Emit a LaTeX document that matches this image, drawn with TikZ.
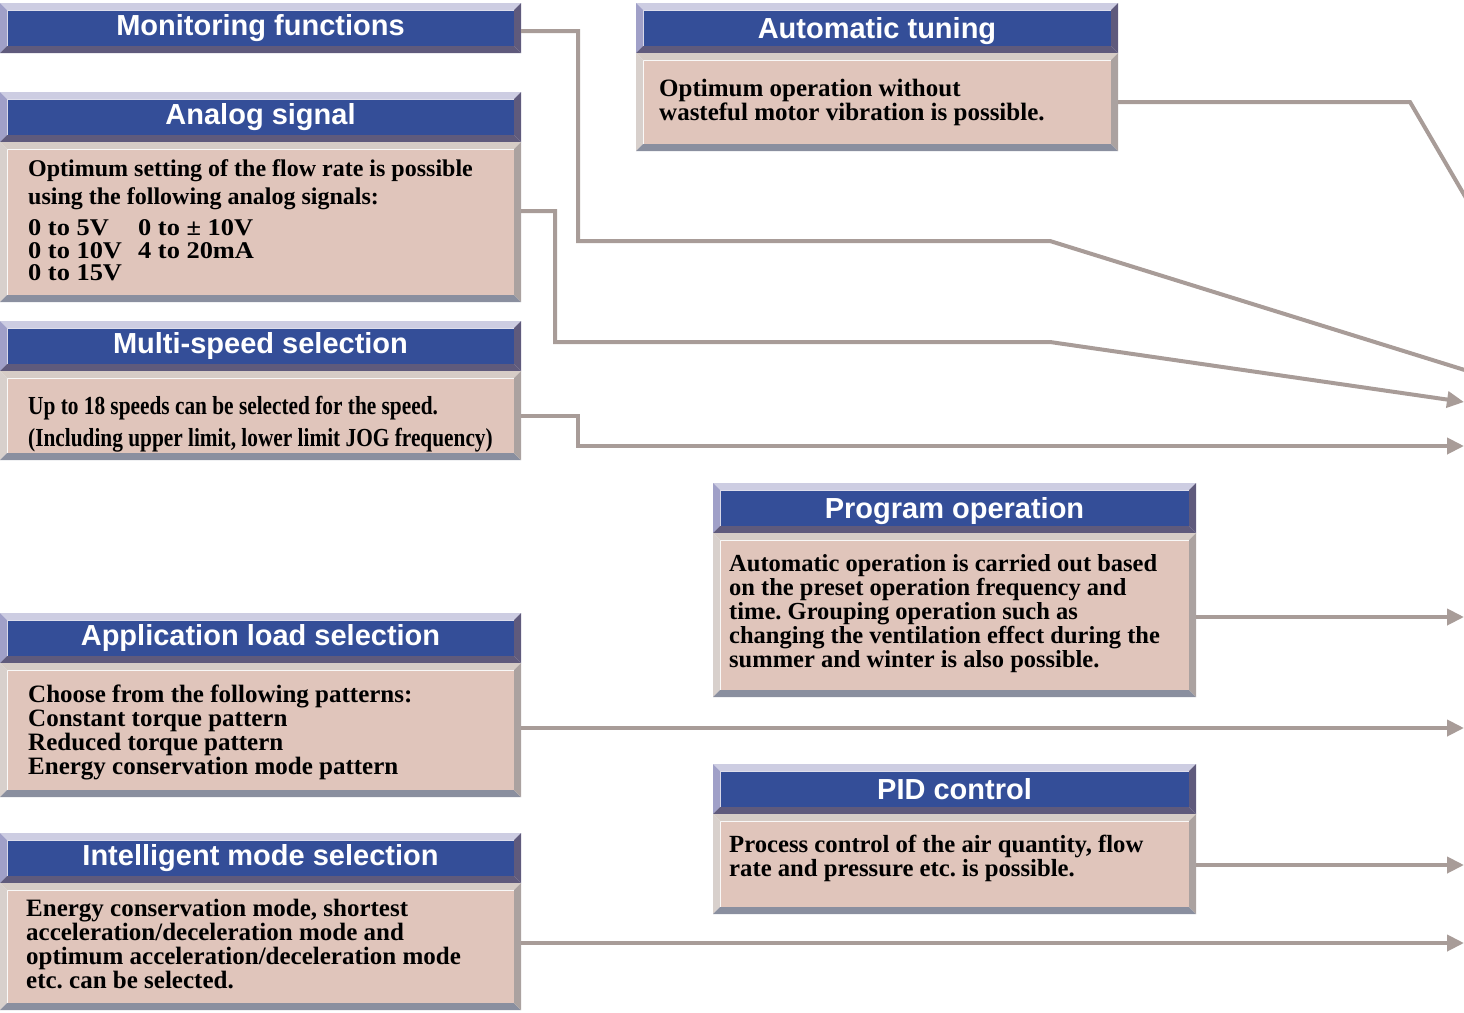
\documentclass[tikz,border=0pt]{standalone}
\usepackage{fontspec}
\setmainfont{Liberation Serif}
\newfontfamily\headfont{Liberation Sans}
\newfontfamily\narrowfont[FakeStretch=0.82]{Liberation Serif}
\newfontfamily\widefont[FakeStretch=1.1]{Liberation Serif}
\usetikzlibrary{positioning,calc,arrows.meta}
\definecolor{titleblue}{HTML}{344E98}
\definecolor{titletop}{HTML}{CDCDE2}
\definecolor{titleleft}{HTML}{A0A0C8}
\definecolor{titledark}{HTML}{5F5A7C}
\definecolor{bodyfill}{HTML}{E0C5BB}
\definecolor{bodytop}{HTML}{D6CCC6}
\definecolor{bodyleft}{HTML}{D8D0CC}
\definecolor{bodybottom}{HTML}{8A8F9F}
\definecolor{bodyright}{HTML}{ABA2A0}
\definecolor{wiregray}{HTML}{A89C98}

% bevelled frame, 7 units wide, round a named node
\newcommand{\bevel}[5]{%
  \fill[#2] ($(#1.north west)+(-7,-7)$) -- ($(#1.north east)+(7,-7)$) -- (#1.north east) -- (#1.north west) -- cycle;
  \fill[#3] ($(#1.north west)+(-7,-7)$) -- (#1.north west) -- (#1.south west) -- ($(#1.south west)+(-7,7)$) -- cycle;
  \fill[#4] ($(#1.south west)+(-7,7)$) -- (#1.south west) -- (#1.south east) -- ($(#1.south east)+(7,7)$) -- cycle;
  \fill[#5] ($(#1.north east)+(7,-7)$) -- ($(#1.south east)+(7,7)$) -- (#1.south east) -- (#1.north east) -- cycle;
}
\newcommand{\titlebevel}[1]{\bevel{#1}{titletop}{titleleft}{titledark}{titledark}}
\newcommand{\bodybevel}[1]{\bevel{#1}{bodytop}{bodyleft}{bodybottom}{bodyright}}

\begin{document}
\frenchspacing
\begin{tikzpicture}[
    x=1pt, y=-1pt,
    titlebar/.style={rectangle, fill=titleblue, draw=titletop!60!white, line width=1pt,
                     outer sep=0pt, minimum height=36pt, text=white,
                     font=\headfont\bfseries\fontsize{29}{30}\selectfont},
    lowtitle/.style={text depth=0pt},
    bodybox/.style={rectangle, fill=bodyfill, draw=white, line width=1pt, outer sep=0pt},
    bodytext/.style={anchor=north west, inner sep=0pt, align=left,
                     font=\bfseries\fontsize{25}{24}\selectfont},
    wire/.style={-{Triangle[length=17pt,width=16pt]}, line width=4pt, color=wiregray}
]
    \useasboundingbox (0,0) rectangle (1464,1012);
    \clip (0,0) rectangle (1464,1012);

    % left column
    \node[titlebar, minimum width=507pt] (monT) at (260.5,28) {Monitoring functions};
    \titlebevel{monT}

    \node[titlebar, minimum width=507pt] (anaT) at (260.5,117) {Analog signal};
    \node[bodybox, minimum width=507pt, minimum height=146pt, below=14pt of anaT] (anaB) {};
    \titlebevel{anaT}
    \bodybevel{anaB}
    \node[bodytext, font=\bfseries\fontsize{24}{24}\selectfont] (anaX) at ($(anaB.north west)+(21,10)$)
        {Optimum setting of the flow rate is possible\\[4pt]
         using the following analog signals:\\[7pt]
         {\widefont\makebox[110pt][l]{0 to 5V}0 to ± 10V}\\[-1pt]
         {\widefont\makebox[110pt][l]{0 to 10V}4 to 20mA}\\[-2pt]
         {\widefont 0 to 15V}};

    \node[titlebar, minimum width=507pt] (mulT) at (260.5,346) {Multi-speed selection};
    \node[bodybox, minimum width=507pt, minimum height=75pt, below=14pt of mulT] (mulB) {};
    \titlebevel{mulT}
    \bodybevel{mulB}
    \node[bodytext, font=\narrowfont\bfseries\fontsize{26}{32}\selectfont] (mulX) at ($(mulB.north west)+(21,18)$)
        {Up to 18 speeds can be selected for the speed.\\
         (Including upper limit, lower limit JOG frequency)};

    \node[titlebar, minimum width=507pt] (appT) at (260.5,638) {Application load selection};
    \node[bodybox, minimum width=507pt, minimum height=120pt, below=14pt of appT] (appB) {};
    \titlebevel{appT}
    \bodybevel{appB}
    \node[bodytext] (appX) at ($(appB.north west)+(21,15)$)
        {Choose from the following patterns:\\
         Constant torque pattern\\
         Reduced torque pattern\\
         Energy conservation mode pattern};

    \node[titlebar, minimum width=507pt] (intT) at (260.5,858) {Intelligent mode selection};
    \node[bodybox, minimum width=507pt, minimum height=113pt, below=14pt of intT] (intB) {};
    \titlebevel{intT}
    \bodybevel{intB}
    \node[bodytext] (intX) at ($(intB.north west)+(19,9)$)
        {Energy conservation mode, shortest\\
         acceleration/deceleration mode and\\
         optimum acceleration/deceleration mode\\
         etc. can be selected.};

    % middle column
    \node[titlebar, lowtitle, minimum width=468pt] (tunT) at (877,28) {Automatic tuning};
    \node[bodybox, minimum width=468pt, minimum height=84pt, below=14pt of tunT] (tunB) {};
    \titlebevel{tunT}
    \bodybevel{tunB}
    \node[bodytext] (tunX) at ($(tunB.north west)+(16,19)$)
        {Optimum operation without\\
         wasteful motor vibration is possible.};

    \node[titlebar, lowtitle, minimum width=469pt] (prgT) at (954.5,508) {Program operation};
    \node[bodybox, minimum width=469pt, minimum height=150pt, below=14pt of prgT] (prgB) {};
    \titlebevel{prgT}
    \bodybevel{prgB}
    \node[bodytext, font=\bfseries\fontsize{24.5}{24}\selectfont] (prgX) at ($(prgB.north west)+(9,14)$)
        {Automatic operation is carried out based\\
         on the preset operation frequency and\\
         time. Grouping operation such as\\
         changing the ventilation effect during the\\
         summer and winter is also possible.};

    \node[titlebar, minimum width=469pt] (pidT) at (954.5,789) {PID control};
    \node[bodybox, minimum width=469pt, minimum height=86pt, below=14pt of pidT] (pidB) {};
    \titlebevel{pidT}
    \bodybevel{pidB}
    \node[bodytext, font=\bfseries\fontsize{24.7}{24}\selectfont] (pidX) at ($(pidB.north west)+(9,14)$)
        {Process control of the air quantity, flow\\
         rate and pressure etc. is possible.};

    % free ends at the right edge
    \coordinate (monEnd) at (1500,381);
    \coordinate (tunEnd) at (1480,222);
    \coordinate (anaEnd) at (1464,402);
    \coordinate (mulEnd) at (1464,446);
    \coordinate (prgEnd) at (1464,617);
    \coordinate (appEnd) at (1464,728);
    \coordinate (pidEnd) at (1464,865);
    \coordinate (intEnd) at (1464,943);

    \draw[wire] ([xshift=7pt,yshift=-3pt]monT.east) -- (578,31) -- (578,241) -- (1050,241) -- (monEnd);
    \draw[wire] ([xshift=7pt]tunB.east) -- (1410,102) -- (tunEnd);
    \draw[wire] ([xshift=7pt,yshift=11pt]anaB.east) -- (555,211) -- (555,342) -- (1050,342) -- (anaEnd);
    \draw[wire] ([xshift=7pt]mulB.east) -- ++(57,0) |- (mulEnd);
    \draw[wire] ($(prgB.east |- prgEnd)+(7,0)$) -- (prgEnd);
    \draw[wire] ($(appB.east |- appEnd)+(7,0)$) -- (appEnd);
    \draw[wire] ($(pidB.east |- pidEnd)+(7,0)$) -- (pidEnd);
    \draw[wire] ($(intB.east |- intEnd)+(7,0)$) -- (intEnd);
\end{tikzpicture}
\end{document}
